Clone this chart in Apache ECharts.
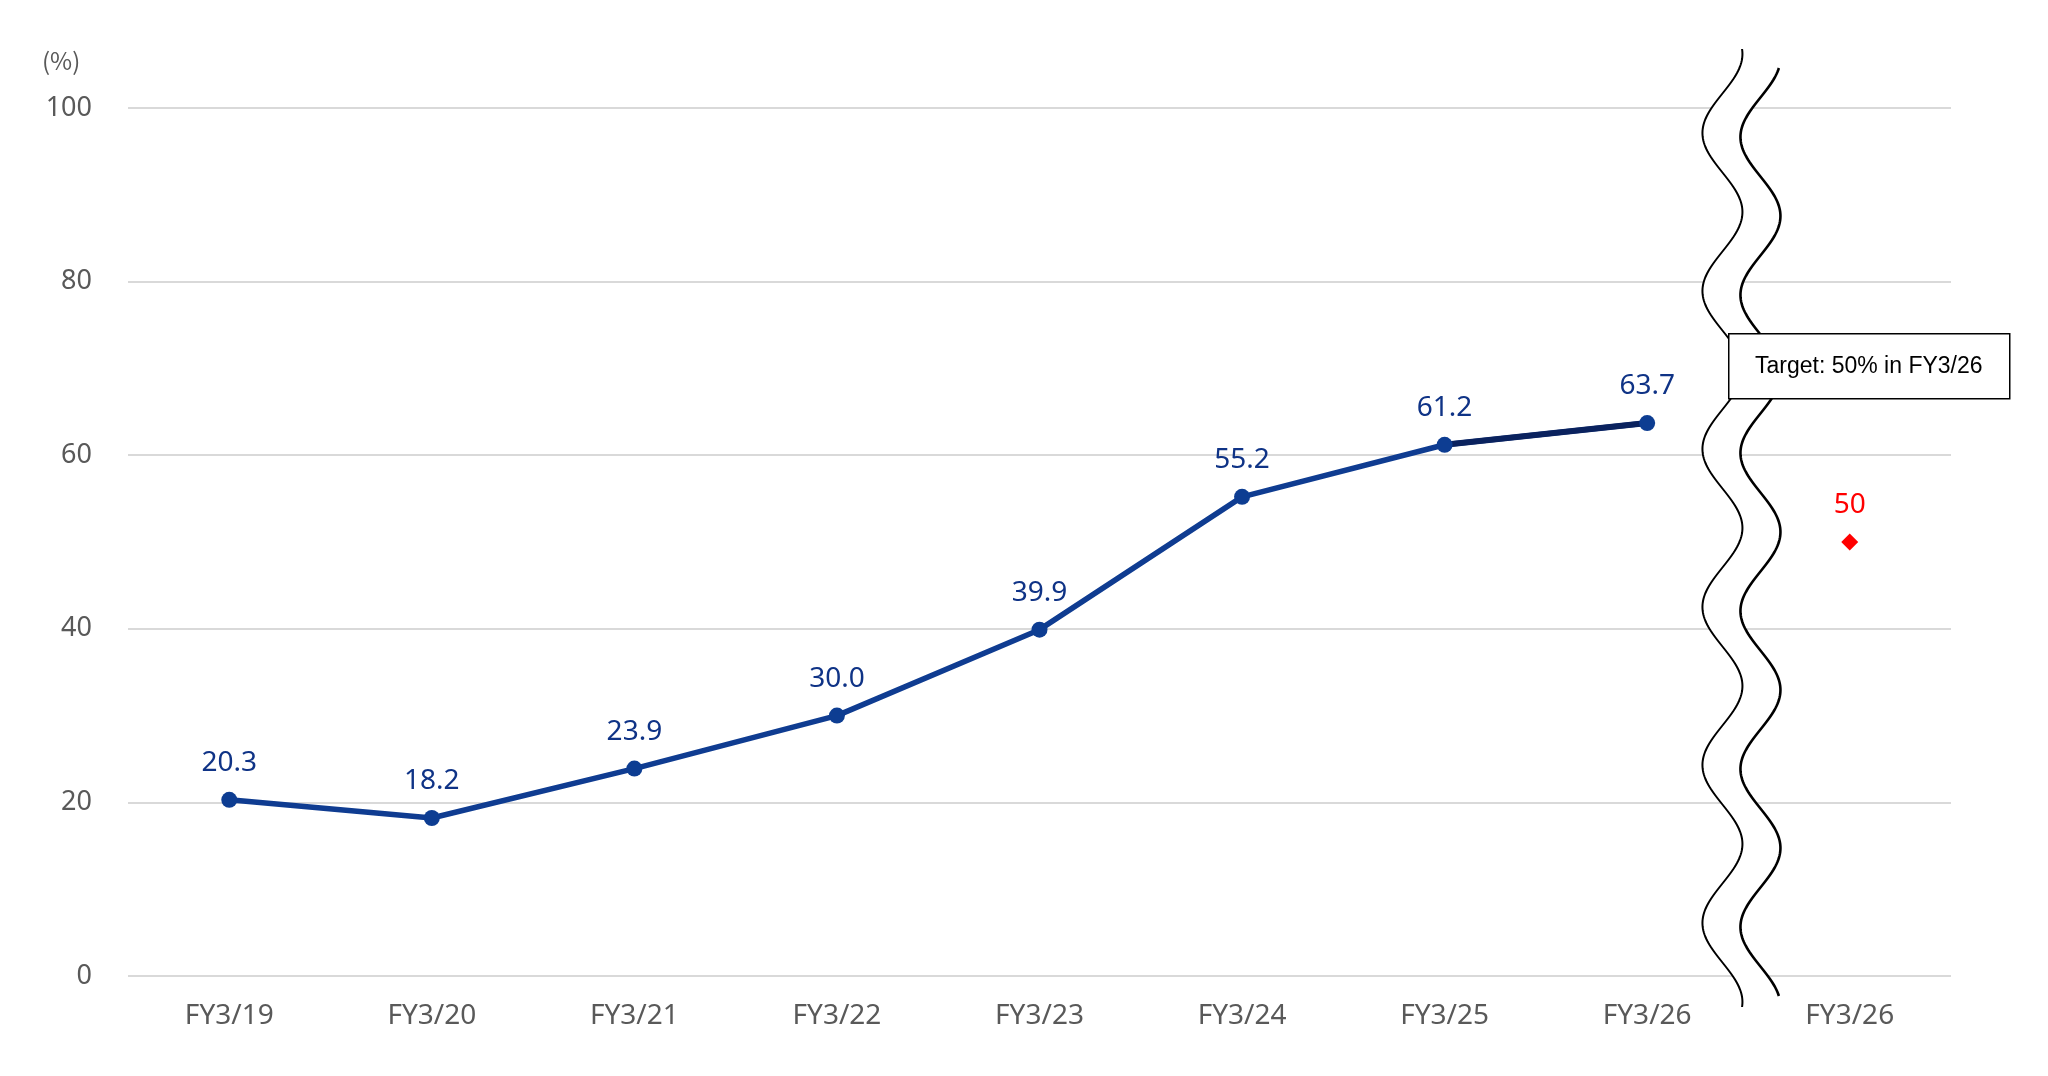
<!DOCTYPE html>
<html>
<head>
<meta charset="utf-8">
<style>
    html, body { margin: 0; padding: 0; background: #ffffff; }
    #main { width: 2048px; height: 1076px; }
</style>
</head>
<body>
<div id="main"></div>
<script src="https://cdn.jsdelivr.net/npm/echarts@6/dist/echarts.min.js"></script>
<script type="text/javascript">
    // data
    var categories = ['FY3/19', 'FY3/20', 'FY3/21', 'FY3/22', 'FY3/23', 'FY3/24', 'FY3/25', 'FY3/26', 'FY3/26'];
    var actual = [20.3, 18.2, 23.9, 30.0, 39.9, 55.2, 61.2, 63.7, null];
    var target = [null, null, null, null, null, null, null, null, 50];
    var yTicks = [0, 20, 40, 60, 80, 100];

    // last segment (FY3/25 -> FY3/26) is drawn darker
    var lastSeg = actual.map(function (v, i) {
        return (i === 6 || i === 7) ? v : null;
    });

    var fontName = '"Noto Sans", "Open Sans", sans-serif';
    var myChart = echarts.init(document.getElementById('main'));
    var option = {
        animation: false,
        backgroundColor: '#ffffff',
        grid: {
            left: 128,
            right: 97,
            top: 108,
            bottom: 100
        },
        title: {
            text: '(%)',
            left: 37,
            top: 44,
            textStyle: {
                fontFamily: '"Noto Sans CJK JP", sans-serif',
                fontSize: 24,
                fontWeight: 'normal',
                color: '#595959'
            }
        },
        xAxis: [
            {
                type: 'category',
                boundaryGap: true,
                data: categories,
                axisLine: {show: false},
                axisTick: {show: false},
                axisLabel: {
                    margin: 26,
                    fontSize: 28,
                    fontFamily: fontName,
                    color: '#595959'
                }
            }
        ],
        yAxis: [
            {
                type: 'value',
                min: yTicks[0],
                max: yTicks[yTicks.length - 1],
                interval: yTicks[1] - yTicks[0],
                axisLine: {show: false},
                axisTick: {show: false},
                splitLine: {
                    show: true,
                    lineStyle: {
                        color: '#d9d9d9',
                        width: 2
                    }
                },
                axisLabel: {
                    margin: 36,
                    fontSize: 27,
                    fontFamily: fontName,
                    color: '#595959'
                }
            }
        ],
        series: [
            {
                name: 'line',
                type: 'line',
                data: actual,
                showSymbol: false,
                z: 2,
                lineStyle: {color: '#0f3c91', width: 5.5}
            },
            {
                name: 'last',
                type: 'line',
                data: lastSeg,
                showSymbol: false,
                z: 3,
                lineStyle: {color: '#0a225e', width: 6}
            },
            {
                name: 'points',
                type: 'scatter',
                data: actual,
                symbol: 'circle',
                symbolSize: 16,
                z: 4,
                itemStyle: {color: '#0d3d92', opacity: 1},
                label: {
                    show: true,
                    position: 'top',
                    distance: 15,
                    fontSize: 28,
                    fontFamily: fontName,
                    color: '#0f3386',
                    formatter: function (p) {
                        return p.value.toFixed(1);
                    }
                }
            },
            {
                name: 'target',
                type: 'scatter',
                data: target,
                symbol: 'diamond',
                symbolSize: 17,
                z: 4,
                itemStyle: {color: '#ff0000', opacity: 1},
                label: {
                    show: true,
                    position: 'top',
                    distance: 14,
                    fontSize: 28,
                    fontFamily: fontName,
                    color: '#ff0000'
                }
            }
        ]
    };
    myChart.setOption(option);

    // wavy break between the two FY3/26 columns
    var x7 = myChart.convertToPixel({xAxisIndex: 0}, 7);
    var x8 = myChart.convertToPixel({xAxisIndex: 0}, 8);
    var mid = (x7 + x8) / 2;

    function wave(cx, y0, y1, phase) {
        var pts = [];
        for (var y = y0; y <= y1; y += 2) {
            pts.push([cx - 20 * Math.cos(2 * Math.PI * (y - phase) / 158), y]);
        }
        return pts;
    }
    var leftWave = wave(mid - 26, 49, 1007, 133);
    var rightWave = wave(mid + 12, 68, 997, 137);

    myChart.setOption({
        graphic: [
            {
                type: 'polygon',
                z: 100,
                shape: {points: leftWave.concat(rightWave.slice().reverse())},
                style: {fill: '#ffffff', stroke: null}
            },
            {
                type: 'polyline',
                z: 101,
                shape: {points: leftWave},
                style: {stroke: '#000000', lineWidth: 2, fill: null}
            },
            {
                type: 'polyline',
                z: 101,
                shape: {points: rightWave},
                style: {stroke: '#000000', lineWidth: 2.6, fill: null}
            },
            {
                type: 'group',
                left: 1728,
                top: 333,
                z: 110,
                children: [
                    {
                        type: 'rect',
                        z: 110,
                        shape: {x: 0, y: 0, width: 281, height: 65},
                        style: {fill: '#ffffff', stroke: '#000000', lineWidth: 1.5}
                    },
                    {
                        type: 'text',
                        z: 111,
                        x: 140,
                        y: 33,
                        style: {
                            text: 'Target: 50% in FY3/26',
                            fontFamily: '"Liberation Sans", Arial, sans-serif',
                            fontSize: 23,
                            fill: '#000000',
                            align: 'center',
                            verticalAlign: 'middle'
                        }
                    }
                ]
            }
        ]
    });
</script>
</body>
</html>
